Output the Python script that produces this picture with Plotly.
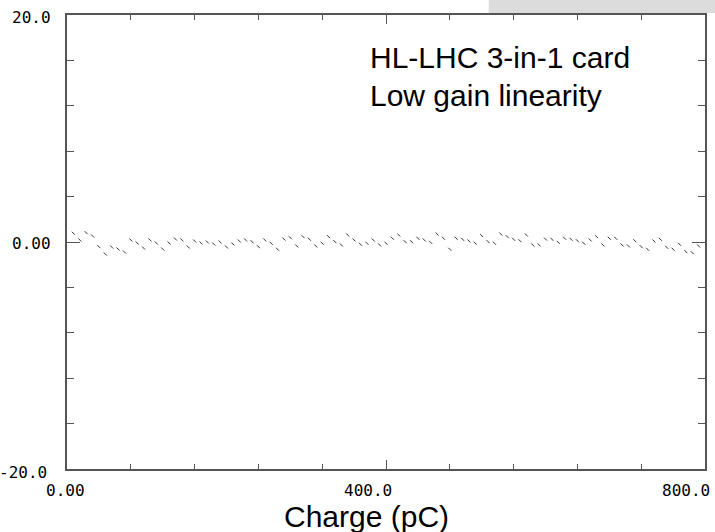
import plotly.graph_objects as go

# ---- data ----
charge_pc = [8 * k for k in range(1, 100)]
deviation = [
    0.77, 0.18, 0.82, 0.53, -0.41, -1.06, -0.44, -0.62, -0.88, 0.18,
    -0.09, -0.53, 0.18, -0.09, -0.62, -0.09, 0.26, 0.18, -0.44, 0.09,
    -0.09, 0.00, -0.18, 0.00, -0.44, -0.18, 0.09, 0.18, 0.03, -0.41,
    0.18, -0.11, -0.64, 0.26, 0.38, -0.35, 0.47, 0.24, -0.35, -0.11,
    0.47, 0.03, -0.26, 0.62, 0.18, -0.20, -0.11, 0.18, -0.26, -0.11,
    0.33, 0.62, 0.03, 0.03, 0.33, 0.18, -0.03, 0.70, 0.33, -0.64,
    0.33, 0.24, 0.09, -0.11, 0.56, 0.03, -0.11, 0.70, 0.47, 0.24,
    0.11, 0.62, -0.26, -0.26, 0.26, 0.24, -0.03, 0.33, 0.24, 0.11,
    -0.11, 0.18, 0.47, -0.26, 0.33, 0.33, -0.26, -0.35, 0.11, -0.41,
    -0.64, 0.09, 0.24, -0.47, -0.64, -0.20, -0.85, -0.94, -0.35,
]
x_tick_vals = [0, 400, 800]
x_tick_text = ["0.00", "400.0", "800.0"]
y_tick_vals = [20, 0, -20]
y_tick_text = ["20.0", "0.00", "-20.0"]
texts = ["HL-LHC 3-in-1 card", "Low gain linearity"]
x_title = "Charge (pC)"

fig = go.Figure()
fig.add_trace(go.Scatter(
    x=charge_pc, y=deviation, mode="markers",
    marker=dict(symbol="line-nw", size=3, line=dict(width=1, color="#333333")),
    showlegend=False, hoverinfo="skip",
))

axis_common = dict(
    showgrid=False, zeroline=False, showline=True, linecolor="#555555", linewidth=2,
    mirror="allticks", ticks="inside", tickcolor="#555555", tickwidth=1,
    showticklabels=False,
)
fig.update_xaxes(range=[0, 800], tickvals=x_tick_vals, ticklen=9,
                 minor=dict(dtick=80, ticks="inside", ticklen=5, tickcolor="#555555", tickwidth=1, showgrid=False),
                 **axis_common)
fig.update_yaxes(range=[-20, 20], tickvals=y_tick_vals, ticklen=13,
                 minor=dict(dtick=4, ticks="inside", ticklen=7, tickcolor="#555555", tickwidth=1, showgrid=False),
                 **axis_common)

tick_font = dict(family="DejaVu Sans Mono", size=16, color="black")
anns = []
y_shifts = {20: (-14, -2), 0: (-14, -1), -20: (-18, -3)}
for v, t in zip(y_tick_vals, y_tick_text):
    xs, ys = y_shifts[v]
    anns.append(dict(x=0, xref="paper", y=v, yref="y", text=t, showarrow=False,
                     xanchor="right", yanchor="middle", xshift=xs, yshift=ys, font=tick_font))
x_shifts = {0: -2, 400: -18, 800: -19}
for v, t in zip(x_tick_vals, x_tick_text):
    anns.append(dict(x=v, xref="x", y=0, yref="paper", text=t, showarrow=False,
                     xanchor="center", yanchor="middle", xshift=x_shifts[v], yshift=-21, font=tick_font))

big_font = dict(family="Liberation Sans, Arial", size=30, color="black")
anns.append(dict(x=378, xref="x", y=16.3, yref="y", text=texts[0], showarrow=False,
                 xanchor="left", yanchor="middle", font=big_font))
anns.append(dict(x=378, xref="x", y=12.95, yref="y", text=texts[1], showarrow=False,
                 xanchor="left", yanchor="middle", font=big_font))
anns.append(dict(x=376, xref="x", y=-0.105, yref="paper", text=x_title, showarrow=False,
                 xanchor="center", yanchor="middle", font=big_font))

fig.update_layout(
    width=715, height=532,
    margin=dict(l=67, r=8, t=15, b=63),
    paper_bgcolor="white", plot_bgcolor="white",
    annotations=anns,
    shapes=[dict(type="rect", xref="paper", yref="paper", x0=0.661, x1=1.02, y0=1.0044, y1=1.04,
                 fillcolor="#dcdcdc", line=dict(width=0), layer="below")],
)

fig.write_html("out.html", config={"displayModeBar": False},
               post_script="document.body.style.margin='0';document.body.style.padding='0';")
